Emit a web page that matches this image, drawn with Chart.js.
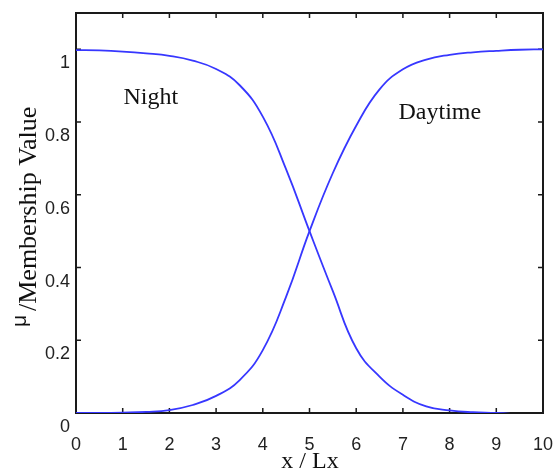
<!DOCTYPE html>
<html>
<head>
<meta charset="utf-8">
<script src="https://cdn.jsdelivr.net/npm/chart.js@4.4.0/dist/chart.umd.min.js"></script>
<style>
  html, body { margin: 0; padding: 0; background: #fff; }
</style>
</head>
<body>
<canvas id="chart" width="556" height="475"></canvas>
<script>
const xValues = [0, 0.5, 1, 1.5, 2, 2.5, 3, 3.5, 4, 4.5, 5, 5.5, 6, 6.5, 7, 7.5, 8, 8.5, 9, 9.5, 10];
const nightValues = [0.998, 0.997, 0.994, 0.989, 0.982, 0.969, 0.946, 0.902, 0.815, 0.67, 0.50, 0.335, 0.178, 0.10, 0.05, 0.018, 0.007, 0.002, 0.0, -0.004, -0.008];
const dayValues = [0.0, 0.0, 0.001, 0.003, 0.008, 0.022, 0.047, 0.09, 0.173, 0.32, 0.50, 0.66, 0.79, 0.89, 0.945, 0.972, 0.985, 0.992, 0.996, 0.999, 1.0];
const xTicks = [0, 1, 2, 3, 4, 5, 6, 7, 8, 9, 10];
const yTicks = [0, 0.2, 0.4, 0.6, 0.8, 1];
const curveNames = ["Night", "Daytime"];
const nameX = [1.6, 7.79];
const nameY = [0.866, 0.825];

const lineColor = "rgb(55,55,255)";

// frame with inward ticks, MATLAB style
const framePlugin = {
    id: "frame",
    beforeDatasetsDraw(chart) {
        const { ctx, chartArea: a, scales } = chart;
        ctx.save();
        ctx.strokeStyle = "#1a1a1a";
        ctx.lineWidth = 1.5;
        ctx.beginPath();
        xTicks.forEach((v) => {
            const px = scales.x.getPixelForValue(v);
            ctx.moveTo(px, a.bottom);
            ctx.lineTo(px, a.bottom - 5);
            ctx.moveTo(px, a.top);
            ctx.lineTo(px, a.top + 5);
        });
        yTicks.forEach((v) => {
            const py = scales.y.getPixelForValue(v);
            ctx.moveTo(a.left, py);
            ctx.lineTo(a.left + 5, py);
            ctx.moveTo(a.right, py);
            ctx.lineTo(a.right - 5, py);
        });
        ctx.stroke();
        ctx.lineWidth = 2;
        ctx.strokeRect(a.left, a.top, a.right - a.left, a.bottom - a.top);
        ctx.restore();
    },
    afterDraw(chart) {
        const { ctx, scales } = chart;
        ctx.save();
        ctx.fillStyle = "#111";
        ctx.textAlign = "center";
        ctx.textBaseline = "middle";
        ctx.font = "24px 'Liberation Serif'";
        curveNames.forEach((name, i) => {
            ctx.fillText(name, scales.x.getPixelForValue(nameX[i]), scales.y.getPixelForValue(nameY[i]));
        });

        // x title
        ctx.fillText("x / Lx", 310, 462);

        // y title: mu with /Membership Value set lower
        ctx.rotate(-Math.PI / 2);
        ctx.textBaseline = "alphabetic";
        ctx.textAlign = "center";
        ctx.font = "21px 'Liberation Sans'";
        ctx.fillText("\u03bc", -321, 26);
        ctx.textAlign = "left";
        ctx.font = "26px 'Liberation Serif'";
        ctx.fillText("/Membership Value", -311, 36);
        ctx.restore();
    },
};

new Chart(document.getElementById("chart"), {
    type: "line",
    data: {
        datasets: [
            {
                label: curveNames[0],
                data: xValues.map((x, i) => ({ x: x, y: nightValues[i] })),
                borderColor: lineColor,
                borderWidth: 1.8,
                pointRadius: 0,
                tension: 0.45,
                fill: false,
            },
            {
                label: curveNames[1],
                data: xValues.map((x, i) => ({ x: x, y: dayValues[i] })),
                borderColor: lineColor,
                borderWidth: 1.8,
                pointRadius: 0,
                tension: 0.45,
                fill: false,
            },
        ],
    },
    options: {
        responsive: false,
        animation: false,
        layout: { padding: { top: 13, right: 13, left: 0, bottom: 0 } },
        plugins: { legend: { display: false }, tooltip: { enabled: false } },
        scales: {
            x: {
                type: "linear",
                min: 0,
                max: 10,
                afterFit: (s) => {
                    s.height = 62;
                    s.paddingLeft = 0;
                    s.paddingRight = 0;
                },
                afterBuildTicks: (s) => { s.ticks = xTicks.map((v) => ({ value: v })); },
                grid: { display: false, drawTicks: false, tickLength: 0 },
                border: { display: false },
                ticks: {
                    padding: 21,
                    color: "#222",
                    font: { family: "'Liberation Sans'", size: 18 },
                    maxRotation: 0,
                },
            },
            y: {
                type: "linear",
                min: 0,
                max: 1.1,
                afterFit: (s) => {
                    s.width = 76;
                    s.paddingTop = 0;
                    s.paddingBottom = 0;
                },
                afterBuildTicks: (s) => { s.ticks = yTicks.map((v) => ({ value: v })); },
                grid: { display: false, drawTicks: false, tickLength: 0 },
                border: { display: false },
                ticks: {
                    padding: 6,
                    labelOffset: 14,
                    color: "#222",
                    font: { family: "'Liberation Sans'", size: 18 },
                    callback: (v) => String(Number(v.toFixed(1))),
                },
            },
        },
    },
    plugins: [framePlugin],
});
</script>
</body>
</html>
